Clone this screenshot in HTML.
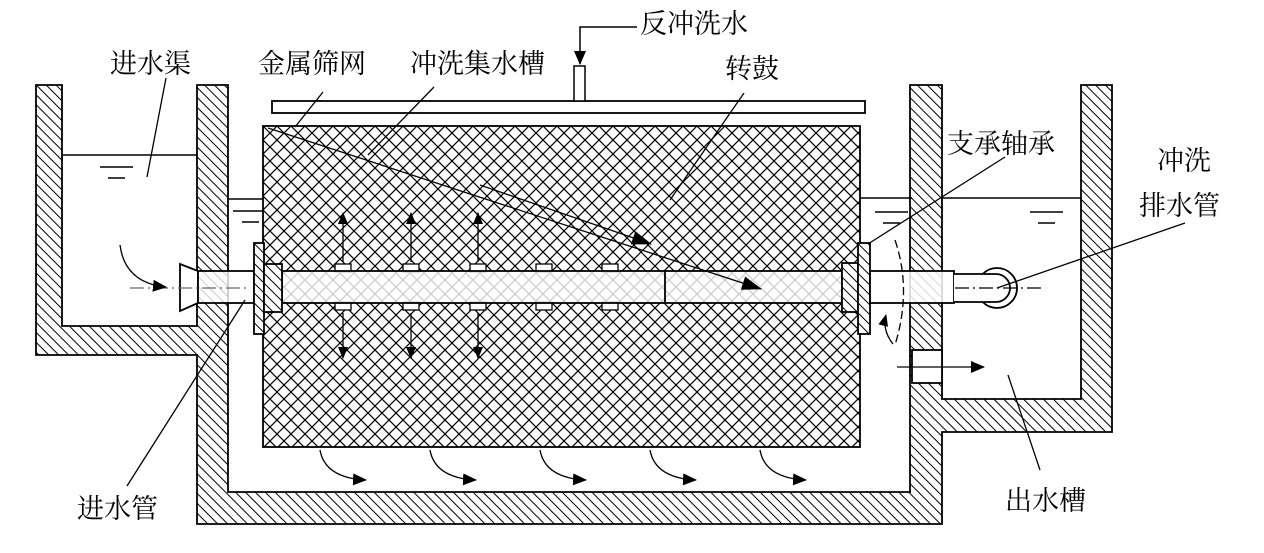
<!DOCTYPE html>
<html><head><meta charset="utf-8"><style>
html,body{margin:0;padding:0;background:#fff;}
svg text{font-family:"Liberation Serif","Noto Serif CJK SC",serif;font-size:27px;fill:#000;}
</style></head><body>
<svg width="1264" height="548" viewBox="0 0 1264 548" xmlns="http://www.w3.org/2000/svg">
<defs>
<pattern id="hatch" width="7" height="7" patternUnits="userSpaceOnUse" patternTransform="rotate(-45)">
<rect width="7" height="7" fill="#fff"/><line x1="0" y1="0" x2="0" y2="7" stroke="#000" stroke-width="2"/></pattern>
<pattern id="mesh" width="14" height="14" patternUnits="userSpaceOnUse" x="263" y="126">
<rect width="14" height="14" fill="#fff"/>
<path d="M0 0L14 14M14 0L0 14" stroke="#000" stroke-width="1.2"/></pattern>
<marker id="ah" markerWidth="12" markerHeight="12" refX="11" refY="6" orient="auto" markerUnits="userSpaceOnUse" viewBox="0 0 12 12"><path d="M0 1L12 6L0 11z" fill="#000"/></marker>
<marker id="ahs" markerWidth="14" markerHeight="14" refX="13" refY="7" orient="auto" markerUnits="userSpaceOnUse" viewBox="0 0 14 14"><path d="M0 1L14 7L0 13z" fill="#000"/></marker>
<marker id="ahl" markerWidth="20" markerHeight="16" refX="19" refY="8" orient="auto" markerUnits="userSpaceOnUse" viewBox="0 0 20 16"><path d="M0 1L20 8L0 15z" fill="#000"/></marker>
</defs>
<g stroke="#000" stroke-width="1.8">
<path d="M36 85H62V326H197V85H228V492H910V85H942V399H1081V85H1112V432H942V524H197V355H36Z" fill="url(#hatch)"/>
<rect x="912" y="350" width="30" height="33" fill="#fff"/>
</g>
<g stroke="#000" stroke-width="1.5">
<line x1="62" y1="155" x2="197" y2="155"/><line x1="100" y1="167" x2="133" y2="167"/><line x1="108" y1="178" x2="125" y2="178"/>
<line x1="228" y1="199" x2="263" y2="199"/><line x1="233" y1="211" x2="263" y2="211"/><line x1="242" y1="222" x2="259" y2="222"/>
<line x1="860" y1="198" x2="912" y2="198"/><line x1="875" y1="212" x2="908" y2="212"/><line x1="883" y1="223" x2="900" y2="223"/>
<line x1="942" y1="198" x2="1081" y2="198"/><line x1="1030" y1="212" x2="1063" y2="212"/><line x1="1038" y1="223" x2="1055" y2="223"/>
</g>
<rect x="272" y="101" width="593" height="12" fill="#fff" stroke="#000" stroke-width="1.8"/>
<rect x="574" y="66" width="11" height="35" fill="#fff" stroke="#000" stroke-width="1.5"/>
<path d="M637 27H580V64" fill="none" stroke="#000" stroke-width="1.5" marker-end="url(#ahs)"/>
<rect x="263" y="126" width="597" height="321" fill="url(#mesh)" stroke="#000" stroke-width="1.8"/>
<g fill="#fff" stroke="#000" stroke-width="1.3">
<rect x="335" y="264" width="16" height="8"/><rect x="403" y="264" width="16" height="8"/><rect x="470" y="264" width="16" height="8"/><rect x="536" y="264" width="16" height="8"/><rect x="602" y="264" width="16" height="8"/>
<rect x="335" y="302" width="16" height="8"/><rect x="403" y="302" width="16" height="8"/><rect x="470" y="302" width="16" height="8"/><rect x="536" y="302" width="16" height="8"/><rect x="602" y="302" width="16" height="8"/>
</g>
<g stroke="#000" stroke-width="1.8">
<path d="M180 264L198 271V303L180 311Z" fill="#fff"/>
<rect x="198" y="271" width="56" height="32" fill="#fff" fill-opacity="0.8"/>
<rect x="282" y="271" width="560" height="32" fill="#fff" fill-opacity="0.8"/>
<line x1="665" y1="271" x2="665" y2="303"/>
<rect x="254" y="243" width="10" height="91" fill="url(#hatch)"/>
<rect x="264" y="264" width="18" height="48" fill="url(#hatch)"/>
<rect x="842" y="263" width="16" height="49" fill="url(#hatch)"/>
<rect x="858" y="243" width="12" height="91" fill="url(#hatch)"/>
<rect x="870" y="271" width="84" height="32" fill="#fff" fill-opacity="0.85"/>
<circle cx="997" cy="288" r="20" fill="#fff"/>
<path d="M954 274H996A14 14 0 0 1 996 302H954" fill="#fff"/>
</g>
<g stroke="#000" stroke-width="1.2" stroke-dasharray="14,4,2,4" fill="none">
<line x1="130" y1="288" x2="250" y2="288" stroke="#666"/>
<line x1="955" y1="288" x2="1045" y2="288"/>
</g>
<g stroke="#000" stroke-width="1.3" fill="none">
<line x1="343" y1="262" x2="343" y2="213" marker-end="url(#ah)"/><line x1="343" y1="313" x2="343" y2="358" marker-end="url(#ah)"/>
<line x1="411" y1="262" x2="411" y2="213" marker-end="url(#ah)"/><line x1="411" y1="313" x2="411" y2="358" marker-end="url(#ah)"/>
<line x1="478" y1="262" x2="478" y2="213" marker-end="url(#ah)"/><line x1="478" y1="313" x2="478" y2="358" marker-end="url(#ah)"/>
<line x1="268" y1="128" x2="761" y2="289" marker-end="url(#ahl)"/>
<line x1="480" y1="185" x2="651" y2="244" marker-end="url(#ahl)"/>
<path d="M320 450Q325 478 366 480" marker-end="url(#ahs)"/>
<path d="M430 450Q435 478 476 480" marker-end="url(#ahs)"/>
<path d="M540 450Q545 478 586 480" marker-end="url(#ahs)"/>
<path d="M650 450Q655 478 696 480" marker-end="url(#ahs)"/>
<path d="M760 450Q765 478 806 480" marker-end="url(#ahs)"/>
<path d="M120 245Q125 283 166 287" marker-end="url(#ahs)"/>
<path d="M895 240Q912 290 895 345" stroke-dasharray="8,4"/>
<path d="M893 344Q882 330 886 315" marker-end="url(#ah)"/>
<line x1="897" y1="367" x2="984" y2="367" marker-end="url(#ahs)"/>
<line x1="166" y1="78" x2="147" y2="177"/>
<line x1="323" y1="92" x2="295" y2="127"/>
<line x1="434" y1="87" x2="368" y2="155"/>
<line x1="744" y1="93" x2="670" y2="200"/>
<line x1="1005" y1="157" x2="868" y2="244"/>
<line x1="1185" y1="223" x2="997" y2="288"/>
<line x1="245" y1="300" x2="127" y2="486"/>
<line x1="1008" y1="375" x2="1040" y2="470"/>
</g>
<text x="110" y="73">进水渠</text>
<text x="258" y="73">金属筛网</text>
<text x="410" y="73">冲洗集水槽</text>
<text x="640" y="33">反冲洗水</text>
<text x="725" y="78">转鼓</text>
<text x="947" y="153">支承轴承</text>
<text x="1157" y="170">冲洗</text>
<text x="1139" y="215">排水管</text>
<text x="77" y="518">进水管</text>
<text x="1005" y="510">出水槽</text>
</svg>
</body></html>
